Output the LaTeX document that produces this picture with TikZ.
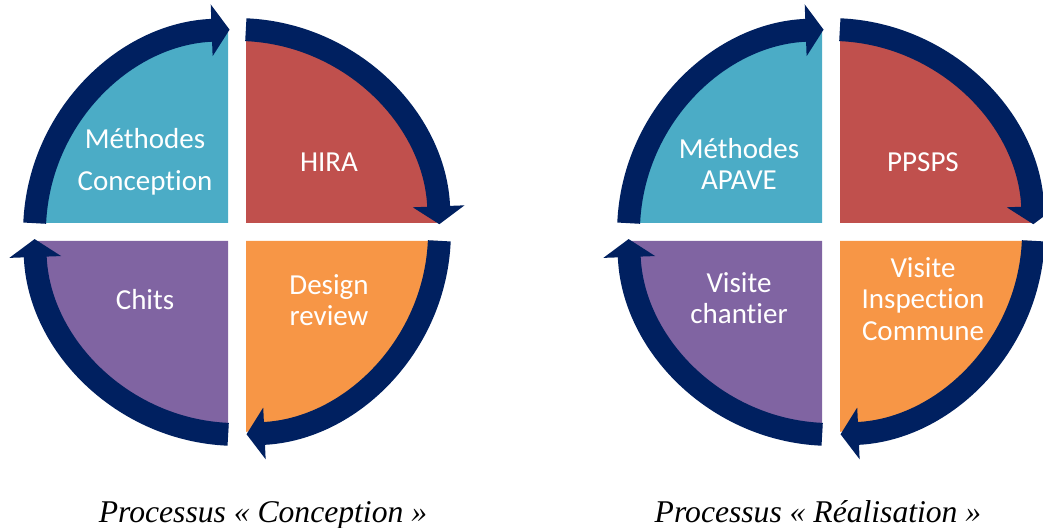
\documentclass[tikz,border=0pt]{standalone}
\usepackage{fontspec}
\setmainfont{Liberation Serif}
\newfontfamily\labelfont[Ligatures=NoCommon]{Carlito}
\usetikzlibrary{arrows.meta,calc}
\definecolor{navyring}{HTML}{002060}
\definecolor{tealq}{HTML}{4BACC6}
\definecolor{redq}{HTML}{C0504D}
\definecolor{purpleq}{HTML}{8064A2}
\definecolor{orangeq}{HTML}{F79646}

\begin{document}
\begin{tikzpicture}[
    quadlabel/.style={text=white, font=\labelfont\fontsize{16.5}{18}\selectfont, align=center},
    caption/.style={font=\itshape\fontsize{18}{20}\selectfont, anchor=base},
    ringarrow/.style={draw=navyring, line width=13pt, -{Triangle[length=10.2pt, width=29pt]}}
]
    \useasboundingbox (0,0) rectangle (20.86,10.56);

    \coordinate (c1) at (4.74,5.92);
    \coordinate (c2) at (16.62,5.92);

    \foreach \ctr in {c1,c2} {
        \fill[redq] ($(\ctr)+(0.18,0.18)$) -- ([shift={(2.58:4)}]\ctr) arc (2.58:87.42:4) -- cycle;
        \fill[tealq] ($(\ctr)+(-0.18,0.18)$) -- ([shift={(92.58:4)}]\ctr) arc (92.58:177.42:4) -- cycle;
        \fill[purpleq] ($(\ctr)+(-0.18,-0.18)$) -- ([shift={(182.58:4)}]\ctr) arc (182.58:267.42:4) -- cycle;
        \fill[orangeq] ($(\ctr)+(0.18,-0.18)$) -- ([shift={(272.58:4)}]\ctr) arc (272.58:357.42:4) -- cycle;

        \draw[ringarrow] ([shift={(177.5:4.05)}]\ctr) arc (177.5:92.1:4.05);
        \draw[ringarrow] ([shift={(87.5:4.05)}]\ctr) arc (87.5:2.2:4.05);
        \draw[ringarrow] ([shift={(-2.5:4.05)}]\ctr) arc (-2.5:-87.3:4.05);
        \draw[ringarrow] ([shift={(-92.5:4.05)}]\ctr) arc (-92.5:-178:4.05);
    }

    \node[quadlabel] (methconc) at ($(c1)+(-1.84,1.40)$) {Méthodes\\[6pt]Conception};
    \node[quadlabel] (hira) at ($(c1)+(1.84,1.39)$) {HIRA};
    \node[quadlabel] (chits) at ($(c1)+(-1.84,-1.36)$) {Chits};
    \node[quadlabel] (design) at ($(c1)+(1.84,-1.36)$) {Design\\review};

    \node[quadlabel] (methapave) at ($(c2)+(-1.84,1.36)$) {Méthodes\\APAVE};
    \node[quadlabel] (ppsps) at ($(c2)+(1.84,1.39)$) {PPSPS};
    \node[quadlabel] (vchantier) at ($(c2)+(-1.84,-1.32)$) {Visite\\chantier};
    \node[quadlabel] (vinspect) at ($(c2)+(1.84,-1.34)$) {Visite\\Inspection\\Commune};

    \node[caption] (capconc) at (5.26,0.12) {Processus « Conception »};
    \node[caption] (capreal) at (16.36,0.12) {Processus « Réalisation »};
\end{tikzpicture}
\end{document}
